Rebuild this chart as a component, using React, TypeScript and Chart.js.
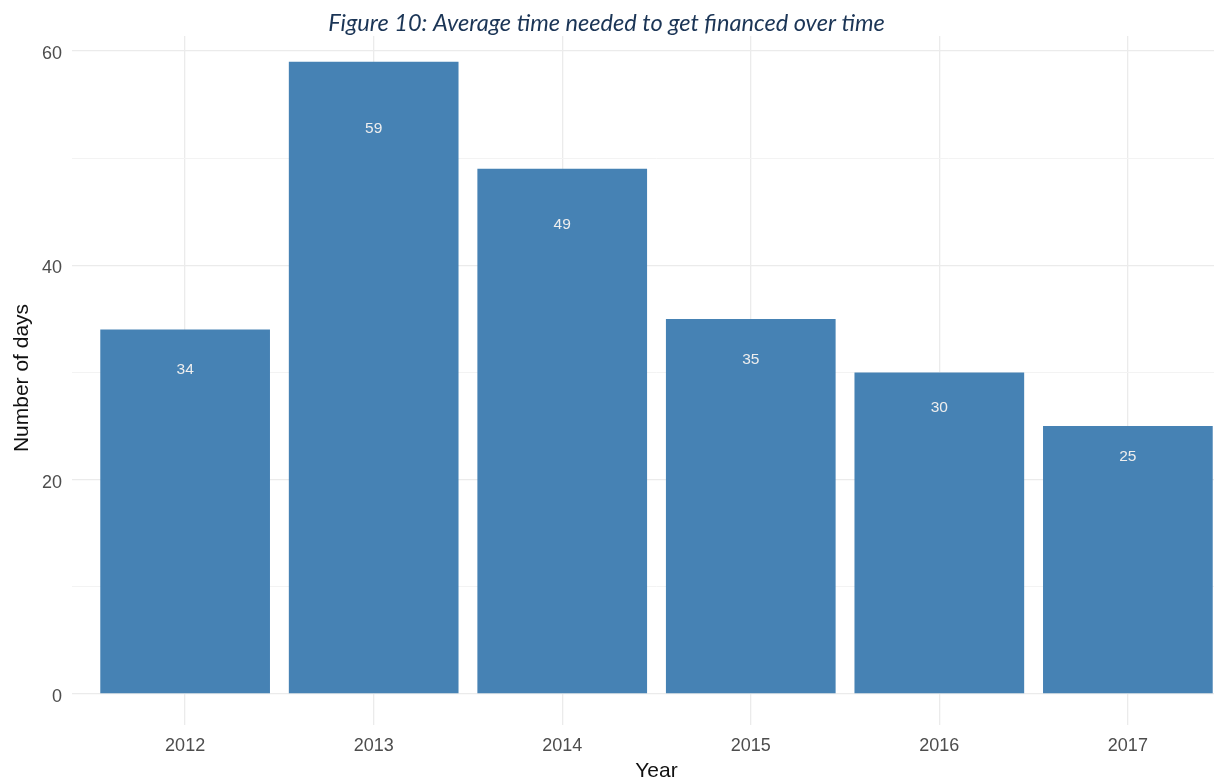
import React, { useEffect, useRef } from "react";
import { Chart, registerables } from "chart.js";

Chart.register(...registerables);

const years = ["2012", "2013", "2014", "2015", "2016", "2017"];
const days = [34, 59, 49, 35, 30, 25];
const yTicks = [0, 10, 20, 30, 40, 50, 60];
const titleText = "Figure 10: Average time needed to get financed over time";
const xTitle = "Year";
const yTitle = "Number of days";

const W = 1250;
const H = 780;

export default function App() {
  const ref = useRef<HTMLCanvasElement | null>(null);

  useEffect(() => {
    if (!ref.current) return;
    const textPlugin = {
      id: "customText",
      afterDatasetsDraw(chart: any) {
        const ctx = chart.ctx;
        const xs = chart.scales.x;
        const ys = chart.scales.y;
        ctx.save();
        // value labels
        ctx.fillStyle = "#EEEEEE";
        ctx.font = "15.5px 'Liberation Sans', Arial, sans-serif";
        ctx.textAlign = "center";
        ctx.textBaseline = "middle";
        days.forEach((v, i) => {
          const px = xs.getPixelForValue(i + 1);
          const py = ys.getPixelForValue(v * 0.9) + 3.5;
          ctx.fillText(String(v), px, py);
        });
        ctx.restore();
      },
      afterDraw(chart: any) {
        const ctx = chart.ctx;
        const area = chart.chartArea;
        ctx.save();
        // title
        ctx.fillStyle = "#1B3556";
        ctx.font = "italic 20px Lato, 'Open Sans', sans-serif";
        const w0 = ctx.measureText(titleText).width;
        const size = 20 * (557 / w0);
        ctx.font = `italic ${size}px Lato, 'Open Sans', sans-serif`;
        ctx.textAlign = "center";
        ctx.textBaseline = "alphabetic";
        ctx.fillText(titleText, 606.5, 31);
        // axis titles
        ctx.fillStyle = "#111111";
        ctx.font = "21px 'Liberation Sans', Arial, sans-serif";
        ctx.fillText(xTitle, (area.left + area.right) / 2, 777);
        ctx.translate(28, 378);
        ctx.rotate(-Math.PI / 2);
        ctx.fillText(yTitle, 0, 0);
        ctx.restore();
      },
    };

    const chart = new Chart(ref.current, {
      type: "bar",
      data: {
        datasets: [
          {
            data: days.map((v, i) => ({ x: i + 1, y: v })),
            backgroundColor: "#4682B4",
            borderWidth: 0,
            barPercentage: 0.9,
            categoryPercentage: 1.0,
          },
        ],
      },
      options: {
        animation: false,
        responsive: false,
        maintainAspectRatio: false,
        layout: { padding: { left: 0, right: 9, top: 36, bottom: 0 } },
        plugins: {
          legend: { display: false },
          tooltip: { enabled: false },
          title: { display: false },
        },
        scales: {
          x: {
            type: "linear",
            min: 0.4,
            max: 6.6,
            offset: false,
            grid: {
              offset: false,
              color: "#EBEBEB",
              lineWidth: 1.3,
              drawTicks: false,
            },
            border: { display: false },
            afterBuildTicks(scale: any) {
              scale.ticks = years.map((_, i) => ({ value: i + 1 }));
            },
            afterFit(scale: any) {
              scale.height = 55;
            },
            ticks: {
              padding: 10,
              color: "#4D4D4D",
              font: { family: "'Liberation Sans', Arial, sans-serif", size: 18 },
              maxRotation: 0,
              autoSkip: false,
              callback: (v: any) => years[Math.round(Number(v)) - 1] ?? "",
            },
          },
          y: {
            type: "linear",
            min: -2.9,
            max: 61.4,
            grid: {
              color: (c: any) =>
                c.tick && c.tick.value % 20 === 0 ? "#EBEBEB" : "#F3F3F3",
              lineWidth: (c: any) =>
                c.tick && c.tick.value % 20 === 0 ? 1.3 : 1,
              drawTicks: false,
            },
            border: { display: false },
            afterBuildTicks(scale: any) {
              scale.ticks = yTicks.map((v) => ({ value: v }));
            },
            afterFit(scale: any) {
              scale.width = 72;
            },
            ticks: {
              padding: 10,
              labelOffset: 3,
              color: "#4D4D4D",
              font: { family: "'Liberation Sans', Arial, sans-serif", size: 18 },
              autoSkip: false,
              callback: (v: any) => (Number(v) % 20 === 0 ? String(v) : ""),
            },
          },
        },
      },
      plugins: [textPlugin],
    } as any);
    return () => chart.destroy();
  }, []);

  return (
    <div
      style={{
        position: "fixed",
        left: 0,
        top: 0,
        width: 1214,
        height: 780,
        overflow: "hidden",
        background: "#FFFFFF",
      }}
    >
      <canvas
        ref={ref}
        width={W}
        height={H}
        style={{ width: W, height: H, display: "block" }}
      />
    </div>
  );
}
